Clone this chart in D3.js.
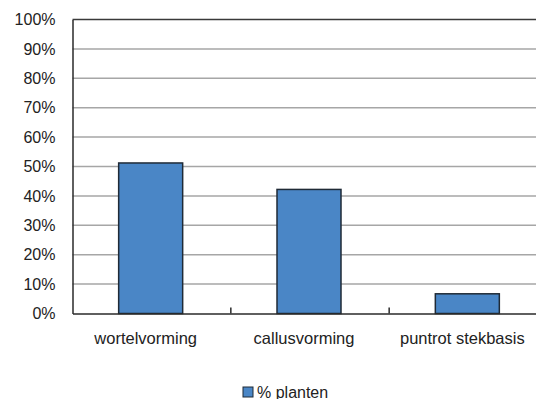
<!DOCTYPE html>
<html>
<head>
<meta charset="utf-8">
<script src="https://cdn.jsdelivr.net/npm/d3@7"></script>
<style>
  body { margin: 0; background: #fff; }
  svg text { font-family: "Liberation Sans", Arial, sans-serif; font-size: 16px; fill: #222; }
</style>
</head>
<body>
<div id="chart"></div>
<script>
var categories = ["wortelvorming", "callusvorming", "puntrot stekbasis"];
var values = [0.512, 0.422, 0.067];
var yTicks = [0, 0.1, 0.2, 0.3, 0.4, 0.5, 0.6, 0.7, 0.8, 0.9, 1.0];
var seriesName = "% planten";

var width = 536, height = 399;
var plotLeft = 72.5, plotTop = 19.5, plotBottom = 313.5, plotRight = 547.5;

var svg = d3.select("#chart").append("svg")
  .attr("width", width)
  .attr("height", height);

var x = d3.scaleBand()
  .domain(categories)
  .range([plotLeft, plotRight]);

var y = d3.scaleLinear()
  .domain([0, 1])
  .range([plotBottom, plotTop]);

// gridlines
svg.append("g")
  .selectAll("line")
  .data(yTicks.slice(1, -1))
  .enter().append("line")
  .attr("x1", plotLeft).attr("x2", plotRight)
  .attr("y1", function(d) { return y(d); })
  .attr("y2", function(d) { return y(d); })
  .style("stroke", "#a6a6a6")
  .style("stroke-width", 1.5);

// plot border top
svg.append("line")
  .attr("x1", plotLeft).attr("x2", plotRight)
  .attr("y1", y(1)).attr("y2", y(1))
  .style("stroke", "#3a3a3a").style("stroke-width", 1.5);

// bars
var barW = 64;
svg.append("g")
  .selectAll("rect")
  .data(values)
  .enter().append("rect")
  .attr("x", function(d, i) { return x(categories[i]) + x.bandwidth() / 2 - barW / 2 - 1; })
  .attr("y", function(d) { return y(d); })
  .attr("width", barW)
  .attr("height", function(d) { return plotBottom - y(d); })
  .style("fill", "#4a86c6")
  .style("stroke", "#1f2a36")
  .style("stroke-width", 1.5);

// y axis
var yAxis = svg.append("g")
  .attr("transform", "translate(" + plotLeft + ",0)")
  .call(d3.axisLeft(y).tickValues(yTicks).tickSize(0).tickPadding(17)
    .tickFormat(d3.format(".0%")));
yAxis.select(".domain").style("stroke", "#2a2a2a").style("stroke-width", 1.5);
yAxis.selectAll("text").style("font-size", "16px").style("fill", "#222");

// x axis
var xAxis = svg.append("g")
  .attr("transform", "translate(0," + plotBottom + ")")
  .call(d3.axisBottom(x).tickSize(0).tickPadding(19));
xAxis.select(".domain").style("stroke", "#2a2a2a").style("stroke-width", 1.5);
xAxis.selectAll("text")
  .attr("dx", "-6")
  .style("font-size", "16.5px").style("fill", "#222");

// category separators (tick marks)
svg.append("g")
  .selectAll("line")
  .data(categories.slice(1))
  .enter().append("line")
  .attr("x1", function(d) { return x(d); })
  .attr("x2", function(d) { return x(d); })
  .attr("y1", plotBottom).attr("y2", plotBottom - 6)
  .style("stroke", "#2a2a2a").style("stroke-width", 1.5);

// legend
var legend = svg.append("g").attr("transform", "translate(243,387)");
legend.append("rect")
  .attr("width", 10).attr("height", 10)
  .style("fill", "#4a86c6")
  .style("stroke", "#1f2a36").style("stroke-width", 1);
legend.append("text")
  .attr("x", 14).attr("y", 11)
  .text(seriesName);
</script>
</body>
</html>
